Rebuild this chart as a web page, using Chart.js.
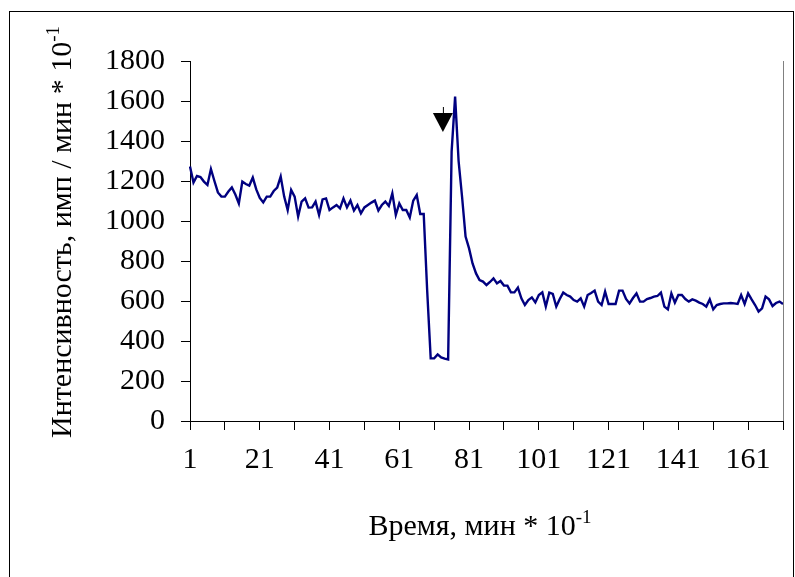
<!DOCTYPE html>
<html lang="ru">
<head>
<meta charset="utf-8">
<title>Интенсивность</title>
<script src="https://cdn.jsdelivr.net/npm/chart.js@4.4.1/dist/chart.umd.min.js"></script>
<style>
    html, body { margin: 0; padding: 0; background: #fff; }
    #wrap { position: relative; width: 795px; height: 577px; overflow: hidden; }
</style>
</head>
<body>
<div id="wrap"><canvas id="chart" width="795" height="577"></canvas></div>
<script>
// Интенсивность, имп / мин * 10^-1 (по точкам)
const intensity = [
    1272, 1192, 1225, 1220, 1197, 1180, 1260, 1200, 1143, 1122,
    1122, 1147, 1168, 1132, 1088, 1197, 1185, 1177, 1217, 1158,
    1115, 1093, 1122, 1122, 1150, 1167, 1222, 1122, 1055, 1155,
    1122, 1022, 1097, 1113, 1067, 1068, 1097, 1030, 1108, 1113,
    1055, 1068, 1080, 1063, 1113, 1068, 1102, 1052, 1080, 1038,
    1068, 1080, 1092, 1102, 1052, 1080, 1097, 1075, 1138, 1030,
    1088, 1055, 1055, 1018, 1102, 1130, 1035, 1035, 650, 313,
    313, 333, 318, 312, 308, 1347, 1622, 1300, 1120, 922,
    863, 788, 738, 705, 697, 680, 695, 713, 688, 700,
    677, 677, 643, 643, 667, 613, 580, 605, 618, 593,
    630, 643, 572, 642, 635, 572, 610, 642, 630, 622,
    605, 597, 613, 572, 630, 640, 652, 597, 580, 647,
    585, 585, 585, 652, 652, 610, 588, 615, 638, 597,
    597, 610, 615, 622, 625, 642, 572, 558, 638, 592,
    630, 630, 610, 597, 608, 602, 592, 585, 572, 608,
    558, 580, 585, 588, 588, 590, 588, 585, 630, 585,
    638, 608, 580, 547, 563, 622, 608, 575, 590, 597,
    585
];

// Время: номера отсчётов 1..N
const times = intensity.map((v, i) => String(i + 1));

// Подписи осей
const xTickLabels = ['1', '21', '41', '61', '81', '101', '121', '141', '161'];
const yTicks = [0, 200, 400, 600, 800, 1000, 1200, 1400, 1600, 1800];

// Стрелка (момент воздействия)
const arrowMark = { x: 72.5, y: 1540 };

const xTitle = 'Время, мин * 10';
const yTitle = 'Интенсивность, имп / мин * 10';
const titleSup = '-1';

const serif = "'Liberation Serif', 'Times New Roman', serif";

// Подпись с верхним индексом
function drawSupTitle(ctx, text, sup, cx, baseY) {
    ctx.font = '30px ' + serif;
    const w1 = ctx.measureText(text).width;
    ctx.font = '19px ' + serif;
    const w2 = ctx.measureText(sup).width;
    const x0 = cx - (w1 + w2) / 2;
    ctx.textAlign = 'left';
    ctx.textBaseline = 'alphabetic';
    ctx.font = '30px ' + serif;
    ctx.fillText(text, x0, baseY);
    ctx.font = '19px ' + serif;
    ctx.fillText(sup, x0 + w1, baseY - 12);
}

const decorPlugin = {
    id: 'decor',
    beforeDraw(chart) {
        const ctx = chart.ctx;
        ctx.save();
        ctx.fillStyle = '#fff';
        ctx.fillRect(0, 0, chart.width, chart.height);
        // внешняя рамка
        ctx.strokeStyle = '#000';
        ctx.lineWidth = 1;
        ctx.strokeRect(9.5, 11.5, 784, 620);
        ctx.restore();
    },
    afterDraw(chart) {
        const ctx = chart.ctx;
        const area = chart.chartArea;
        const xs = chart.scales.x;
        const ys = chart.scales.y;
        ctx.save();

        // правая граница области построения
        ctx.strokeStyle = '#808080';
        ctx.lineWidth = 1;
        ctx.beginPath();
        ctx.moveTo(Math.round(area.right) + 0.5, area.top);
        ctx.lineTo(Math.round(area.right) + 0.5, area.bottom);
        ctx.stroke();

        // стрелка
        const ax = xs.getPixelForValue(arrowMark.x);
        const ay = ys.getPixelForValue(arrowMark.y);
        ctx.fillStyle = '#000';
        ctx.beginPath();
        ctx.moveTo(ax - 10, ay);
        ctx.lineTo(ax + 10, ay);
        ctx.lineTo(ax, ay + 19);
        ctx.closePath();
        ctx.fill();
        ctx.strokeStyle = '#000';
        ctx.beginPath();
        ctx.moveTo(ax + 0.5, ay - 6);
        ctx.lineTo(ax + 0.5, ay);
        ctx.stroke();

        // названия осей
        ctx.fillStyle = '#000';
        drawSupTitle(ctx, xTitle, titleSup, 480, 535);
        ctx.translate(71, 232);
        ctx.rotate(-Math.PI / 2);
        drawSupTitle(ctx, yTitle, titleSup, 0, 0);
        ctx.restore();
    }
};

const ctx = document.getElementById('chart').getContext('2d');
new Chart(ctx, {
    type: 'line',
    data: {
        labels: times,
        datasets: [{
            data: intensity,
            borderColor: '#000080',
            borderWidth: 2.4,
            pointRadius: 0,
            tension: 0,
            fill: false
        }]
    },
    options: {
        responsive: false,
        animation: false,
        layout: { padding: { top: 61, right: 12, bottom: 0, left: 0 } },
        plugins: {
            legend: { display: false },
            tooltip: { enabled: false }
        },
        scales: {
            x: {
                type: 'category',
                offset: false,
                border: { color: '#000', width: 1 },
                grid: {
                    drawOnChartArea: false,
                    drawTicks: true,
                    tickLength: 9,
                    color: c => (c.index % 10 === 0 ? '#000' : 'rgba(0,0,0,0)')
                },
                ticks: {
                    autoSkip: false,
                    maxRotation: 0,
                    minRotation: 0,
                    padding: 12,
                    color: '#000',
                    font: { family: serif, size: 30 },
                    callback: function(val, idx) {
                        const l = times[idx];
                        return xTickLabels.includes(l) ? l : '';
                    }
                },
                afterFit: s => { s.height = 156; }
            },
            y: {
                min: 0,
                max: 1800,
                border: { color: '#000', width: 1 },
                grid: { drawOnChartArea: false, tickLength: 9, color: '#000' },
                ticks: {
                    padding: 16,
                    color: '#000',
                    font: { family: serif, size: 30 },
                    callback: v => String(v)
                },
                afterBuildTicks: s => { s.ticks = yTicks.map(v => ({ value: v })); },
                afterFit: s => { s.width = 190; }
            }
        }
    },
    plugins: [decorPlugin]
});
</script>
</body>
</html>
